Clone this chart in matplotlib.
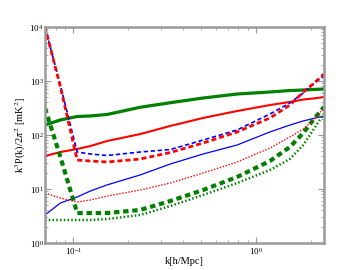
import matplotlib
matplotlib.use("Agg")
import matplotlib.pyplot as plt

# k grid [h/Mpc]
k = [0.07, 0.085, 0.105, 0.124, 0.153, 0.232, 0.339, 0.513, 0.787, 1.19, 1.53, 1.81, 2.05, 2.35]

# k^3 P(k) / 2 pi^2  [mK^2]
green_solid = [153, 190, 220, 225, 240, 326, 396, 484, 574, 626, 666, 681, 696, 711]
red_solid = [40.8, 48.4, 55.1, 62.5, 77.4, 104, 147, 207, 278, 359, 409, 454, 474, 505]
blue_solid = [3.30, 5.51, 7.11, 9.19, 11.9, 18.2, 29.0, 44.5, 65.3, 114, 153, 182, 202, 225]
blue_dashed = [10000, 822, 48.4, 44.5, 41.7, 48.4, 53.8, 80.7, 124, 245, 392, 600, 880, 1239]
red_dashed = [10000, 774, 34.4, 33.0, 31.6, 35.9, 47.4, 71.1, 114, 207, 359, 626, 880, 1349]
green_dashed = [316, 39.1, 3.59, 3.59, 3.59, 4.09, 5.99, 9.58, 16.7, 33.0, 60, 109, 190, 330]
green_dotted = [2.67, 2.67, 2.67, 2.67, 2.78, 3.30, 4.84, 7.74, 12.9, 22.5, 36, 65.3, 124, 250]
red_dotted = [8.43, 6.81, 5.74, 6.25, 7.41, 9.58, 12.9, 19.8, 31.6, 57.4, 91.9, 129, 190, 316]

plt.rcParams['font.family'] = ['Liberation Serif', 'DejaVu Serif']
plt.rcParams['mathtext.fontset'] = 'stix'

fig = plt.figure(figsize=(3.6, 2.7), dpi=100)
ax = fig.add_axes([0.125, 0.1, 0.775, 0.8])

ax.plot(k, green_solid, color='green', lw=2.3)
ax.plot(k, red_solid, color='red', lw=1.5)
ax.plot(k, blue_solid, color='blue', lw=0.9)
ax.plot(k, blue_dashed, color='blue', lw=1.2, ls=(0, (2.6, 1.6)))
ax.plot(k, red_dashed, color='red', lw=2.0, ls=(0, (1.8, 1.1)))
ax.plot(k, green_dashed, color='green', lw=3.0, ls=(0, (1.3, 0.9)))
ax.plot(k, green_dotted, color='green', lw=1.8, ls=(0, (0.6, 0.9)))
ax.plot(k, red_dotted, color='red', lw=1.0, ls=(0, (1, 1.2)))

ax.set_xscale('log')
ax.set_yscale('log')
ax.set_xlim(0.07, 2.35)
ax.set_ylim(1, 1e4)

ax.set_xlabel('k[h/Mpc]', fontsize=7.5, labelpad=0)
ax.set_ylabel(r'k$^3$P(k)/2$\pi^2$ [mK$^2$]', fontsize=7.5, labelpad=1)

for s in ax.spines.values():
    s.set_color('#9a9a9a')
    s.set_linewidth(1.8)
ax.tick_params(which='both', direction='in', top=True, right=True,
               colors='#9a9a9a', labelcolor='black', labelsize=6.5)
ax.tick_params(which='major', length=4, width=0.8)
ax.tick_params(which='minor', length=2, width=0.6)
ax.tick_params(axis='y', pad=1)
ax.tick_params(axis='x', pad=2)

fig.savefig('out.png', dpi=100)
